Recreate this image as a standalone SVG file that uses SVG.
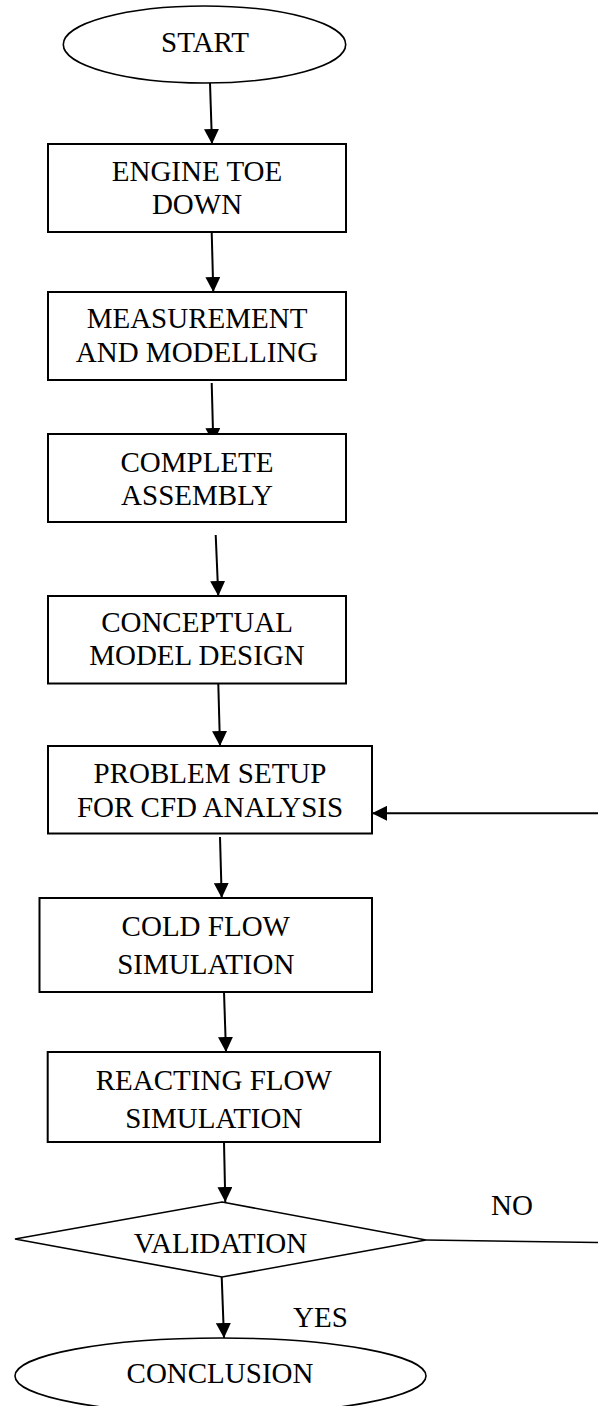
<svg xmlns="http://www.w3.org/2000/svg" width="598" height="1406" viewBox="0 0 598 1406">
<style>
text{font-family:"Liberation Serif","Times New Roman",serif;font-size:29px;fill:#000;text-anchor:middle}
.box{fill:#fff;stroke:#000;stroke-width:2}
.term{fill:#fff;stroke:#000;stroke-width:1.6}
.con{stroke:#000;stroke-width:2;fill:none}
.arr{marker-end:url(#ah)}
.lbl{text-anchor:start}
</style>
<defs>
<marker id="ah" markerUnits="userSpaceOnUse" markerWidth="15" markerHeight="15" refX="15" refY="7.5" orient="auto">
<path d="M0,0 L15,7.5 L0,15 z" fill="#000"/>
</marker>
</defs>
<rect width="598" height="1406" fill="#fff"/>
<g id="connectors">
<line class="con arr" x1="210" y1="83" x2="212" y2="144"/>
<line class="con arr" x1="211.7" y1="232" x2="213.3" y2="292"/>
<line class="con arr" x1="211.7" y1="383" x2="213.3" y2="443"/>
<line class="con arr" x1="215.7" y1="535" x2="218.3" y2="596"/>
<line class="con arr" x1="218.3" y1="684" x2="220" y2="746"/>
<line class="con arr" x1="220" y1="837" x2="221.7" y2="898"/>
<line class="con arr" x1="224" y1="992" x2="226" y2="1052"/>
<line class="con arr" x1="224" y1="1142" x2="225.3" y2="1202"/>
<line class="con arr" x1="221.7" y1="1277" x2="224" y2="1338"/>
<line class="con arr" x1="598" y1="813.3" x2="372" y2="813.3"/>
<line class="con" style="stroke-width:1.6" x1="426" y1="1240" x2="598" y2="1242.5"/>
</g>
<g id="start">
<ellipse class="term" cx="204.5" cy="44.5" rx="141.2" ry="38.5"/>
<text x="205" y="52.3">START</text>
</g>
<g id="engine">
<rect class="box" x="48" y="144" width="298" height="88"/>
<text x="197" y="181">ENGINE TOE</text>
<text x="197" y="214">DOWN</text>
</g>
<g id="measurement">
<rect class="box" x="48" y="292" width="298" height="88"/>
<text x="197" y="328">MEASUREMENT</text>
<text x="197" y="362">AND MODELLING</text>
</g>
<g id="assembly">
<rect class="box" x="48" y="434" width="298" height="88"/>
<text x="197" y="472">COMPLETE</text>
<text x="197" y="505">ASSEMBLY</text>
</g>
<g id="conceptual">
<rect class="box" x="48" y="596" width="298" height="87.5"/>
<text x="197" y="632">CONCEPTUAL</text>
<text x="197" y="665">MODEL DESIGN</text>
</g>
<g id="problem">
<rect class="box" x="48" y="746" width="324" height="87.5"/>
<text x="210" y="783">PROBLEM SETUP</text>
<text x="210" y="817">FOR CFD ANALYSIS</text>
</g>
<g id="cold">
<rect class="box" x="39.5" y="898" width="332.5" height="94"/>
<text x="205.8" y="936">COLD FLOW</text>
<text x="205.8" y="974">SIMULATION</text>
</g>
<g id="reacting">
<rect class="box" x="47.7" y="1052" width="332.3" height="90"/>
<text x="213.8" y="1090">REACTING FLOW</text>
<text x="213.8" y="1128">SIMULATION</text>
</g>
<g id="validation">
<polygon class="term" points="222,1202 426,1240 222,1277 15,1239"/>
<text x="220.5" y="1253">VALIDATION</text>
</g>
<g id="conclusion">
<ellipse class="term" cx="220.5" cy="1376" rx="205.5" ry="38"/>
<text x="220" y="1383">CONCLUSION</text>
</g>
<g id="labels">
<text class="lbl" x="491" y="1215">NO</text>
<text class="lbl" x="293" y="1327">YES</text>
</g>
</svg>
